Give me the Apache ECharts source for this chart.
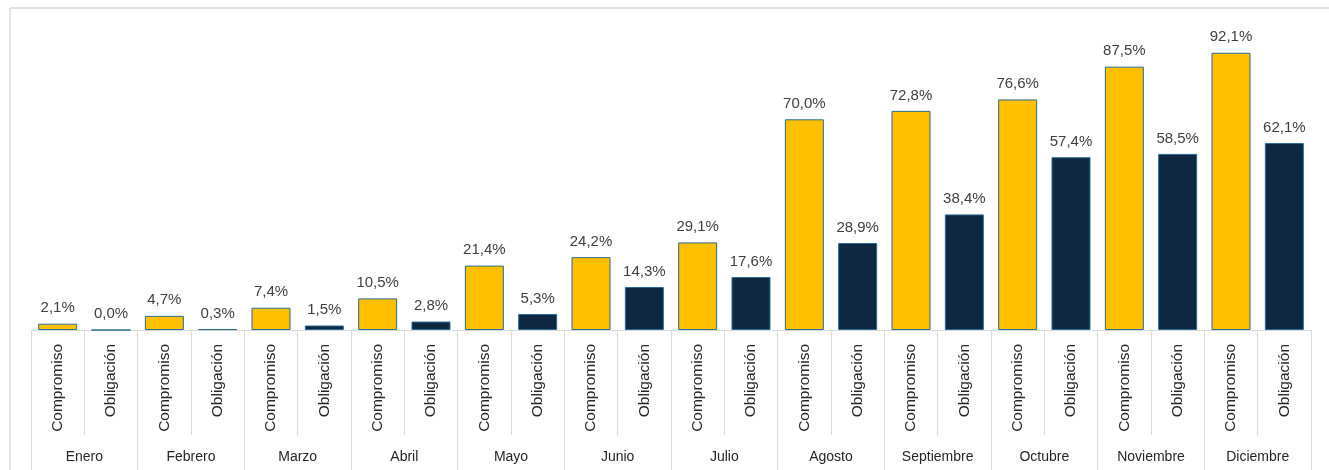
<!DOCTYPE html>
<html>
<head>
<meta charset="utf-8">
<script src="https://cdn.jsdelivr.net/npm/echarts@6/dist/echarts.min.js"></script>
<style>
html,body{margin:0;padding:0;background:#fff;}
#c{width:1329px;height:470px;}
</style>
</head>
<body>
<div id="c"></div>
<script>
const months = ['Enero','Febrero','Marzo','Abril','Mayo','Junio','Julio','Agosto','Septiembre','Octubre','Noviembre','Diciembre'];
const seriesNames = ['Compromiso','Obligación'];
const compromiso = [2.1, 4.7, 7.4, 10.5, 21.4, 24.2, 29.1, 70.0, 72.8, 76.6, 87.5, 92.1];
const obligacion = [0.0, 0.3, 1.5, 2.8, 5.3, 14.3, 17.6, 28.9, 38.4, 57.4, 58.5, 62.1];

const innerCats = [];
const values = [];
months.forEach((m, i) => {
  innerCats.push(m + '|' + seriesNames[0]);
  values.push({value: compromiso[i], itemStyle: {color: '#FFC000'}});
  innerCats.push(m + '|' + seriesNames[1]);
  values.push({value: obligacion[i], itemStyle: {color: '#0E2841'}});
});

const chart = echarts.init(document.getElementById('c'));
const FONT = 'Liberation Sans';
chart.setOption({
  animation: false,
  grid: {left: 31, right: 18, top: 29, bottom: 140},
  graphic: [
    {type: 'line', shape: {x1: 10, y1: 8, x2: 1329, y2: 8}, style: {stroke: '#d9d9d9', lineWidth: 1.5}},
    {type: 'line', shape: {x1: 10, y1: 8, x2: 10, y2: 470}, style: {stroke: '#d9d9d9', lineWidth: 1.5}}
  ],
  xAxis: [
    {
      type: 'category',
      data: innerCats,
      position: 'bottom',
      axisLine: {show: true, lineStyle: {color: '#d9d9d9', width: 1}},
      axisTick: {show: true, interval: 0, length: 105, lineStyle: {color: '#d9d9d9'}},
      axisLabel: {
        interval: 0, rotate: 90, margin: 14,
        fontFamily: FONT, fontSize: 15.5, color: '#262626',
        formatter: v => v.split('|')[1]
      }
    },
    {
      type: 'category',
      data: months,
      position: 'bottom',
      axisLine: {show: false},
      axisTick: {show: true, interval: 0, length: 140, lineStyle: {color: '#d9d9d9'}},
      axisLabel: {interval: 0, margin: 120, fontFamily: FONT, fontSize: 14, color: '#262626'}
    }
  ],
  yAxis: {
    type: 'value', min: 0, max: 100, show: false, splitLine: {show: false}
  },
  series: [{
    type: 'bar',
    xAxisIndex: 0,
    data: values,
    barWidth: 39,
    itemStyle: {borderColor: '#2a6b93', borderWidth: 1},
    label: {
      show: true, position: 'top', distance: 8,
      fontFamily: FONT, fontSize: 15, color: '#404040',
      formatter: p => p.value.toFixed(1).replace('.', ',') + '%'
    }
  }]
});
</script>
</body>
</html>
